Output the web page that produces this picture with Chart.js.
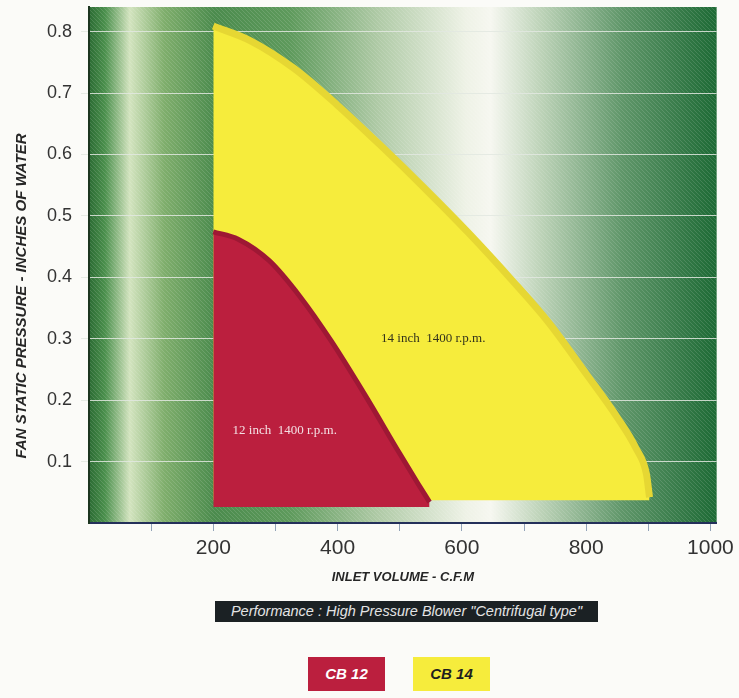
<!DOCTYPE html>
<html>
<head>
<meta charset="utf-8">
<script src="https://cdn.jsdelivr.net/npm/chart.js@4.4.1/dist/chart.umd.min.js"></script>
<style>
  body { margin: 0; background: #fbfbf8; width: 739px; height: 698px; position: relative; overflow: hidden; font-family: "Liberation Sans", Arial, sans-serif; }
  #wrap { position: absolute; left: 0; top: 0; width: 739px; height: 600px; }
  .caption { position: absolute; left: 215px; top: 601px; width: 383px; height: 21px; background: #1b2124; color: #e4e4e4; font-style: italic; font-size: 14.5px; line-height: 21px; text-align: center; white-space: nowrap; }
  .key { position: absolute; top: 657px; width: 77px; height: 34px; font-weight: bold; font-style: italic; font-size: 15px; line-height: 34px; text-align: center; }
</style>
</head>
<body>
<div id="wrap"><canvas id="blowerChart" width="739" height="600"></canvas></div>
<div class="caption">Performance : High Pressure Blower "Centrifugal type"</div>
<div class="key" style="left:308px; background:#bb1f3e; color:#ffffff;">CB 12</div>
<div class="key" style="left:413px; background:#f6ec3c; color:#1e1e1e;">CB 14</div>
<script>
// CB 12 - 12 inch 1400 rpm operating envelope (upper edge)
const cb12Cfm = [200, 240, 290, 340, 390, 445, 500, 530, 548];
const cb12Pressure = [0.474, 0.462, 0.427, 0.368, 0.296, 0.207, 0.113, 0.063, 0.034];
const cb12Base = 0.026;

// CB 14 - 14 inch 1400 rpm operating envelope (upper edge)
const cb14Cfm = [200, 260, 330, 400, 470, 540, 610, 680, 740, 800, 850, 880, 897, 902];
const cb14Pressure = [0.809, 0.785, 0.74, 0.68, 0.614, 0.545, 0.473, 0.396, 0.326, 0.243, 0.172, 0.122, 0.08, 0.042];
const cb14Base = 0.037;

const xTickValues = [100, 200, 300, 400, 500, 600, 700, 800, 900, 1000];
const xLabelValues = [200, 400, 600, 800, 1000];
const yTickValues = [0.1, 0.2, 0.3, 0.4, 0.5, 0.6, 0.7, 0.8];

const regionLabels = [
    { text: '12 inch  1400 r.p.m.', x: 231, y: 0.151, color: '#f3dfe3' },
    { text: '14 inch  1400 r.p.m.', x: 470, y: 0.301, color: '#33331c' }
];

function toPoints(xs, ys) {
    return xs.map((x, i) => ({ x: x, y: ys[i] }));
}

// fine diagonal hatch, like the printed screen on the original
function makeHatch() {
    const c = document.createElement('canvas');
    c.width = 4; c.height = 4;
    const p = c.getContext('2d');
    p.strokeStyle = 'rgba(255,255,255,0.13)';
    p.lineWidth = 1;
    p.beginPath();
    p.moveTo(0, 0); p.lineTo(4, 4);
    p.moveTo(-2, 2); p.lineTo(2, 6);
    p.moveTo(2, -2); p.lineTo(6, 2);
    p.stroke();
    return c;
}

// green / white shaded panel behind the curves
const plotBackground = {
    id: 'plotBackground',
    beforeDraw(chart) {
        const { ctx, chartArea: a } = chart;
        const g = ctx.createLinearGradient(a.left, 0, a.right, 0);
        g.addColorStop(0.0, '#2b6b33');
        g.addColorStop(0.025, '#4a8f4c');
        g.addColorStop(0.065, '#d3e4bf');
        g.addColorStop(0.12, '#7fae6c');
        g.addColorStop(0.2, '#4b8b4d');
        g.addColorStop(0.32, '#5e9a5c');
        g.addColorStop(0.46, '#afcaa6');
        g.addColorStop(0.6, '#eef2e6');
        g.addColorStop(0.64, '#f6f7f0');
        g.addColorStop(0.72, '#bdd3b8');
        g.addColorStop(0.85, '#5f9669');
        g.addColorStop(1.0, '#1d6a35');
        ctx.save();
        ctx.fillStyle = g;
        ctx.fillRect(a.left, a.top, a.width, a.height);
        ctx.fillStyle = ctx.createPattern(makeHatch(), 'repeat');
        ctx.fillRect(a.left, a.top, a.width, a.height);
        ctx.restore();
    }
};

const regionText = {
    id: 'regionText',
    afterDatasetsDraw(chart) {
        const { ctx, scales } = chart;
        ctx.save();
        ctx.font = '13px "Liberation Serif", "Times New Roman", serif';
        ctx.textBaseline = 'middle';
        regionLabels.forEach(l => {
            ctx.fillStyle = l.color;
            ctx.fillText(l.text, scales.x.getPixelForValue(l.x), scales.y.getPixelForValue(l.y));
        });
        ctx.restore();
    }
};

const yTitle = {
    id: 'yTitle',
    afterDraw(chart) {
        const ctx = chart.ctx;
        ctx.save();
        ctx.translate(22, 296);
        ctx.rotate(-Math.PI / 2);
        ctx.font = 'italic bold 15px "Liberation Sans", Arial, sans-serif';
        ctx.fillStyle = '#262626';
        ctx.textAlign = 'center';
        ctx.textBaseline = 'middle';
        ctx.fillText('FAN STATIC PRESSURE - INCHES OF WATER', 0, 0);
        ctx.restore();
    }
};

const ctx = document.getElementById('blowerChart').getContext('2d');
new Chart(ctx, {
    type: 'line',
    data: {
        datasets: [{
            label: 'CB 12',
            data: toPoints(cb12Cfm, cb12Pressure),
            backgroundColor: '#bb1f3e',
            borderColor: '#9e1834',
            borderWidth: 5,
            fill: { value: cb12Base },
            pointRadius: 0,
            cubicInterpolationMode: 'monotone'
        }, {
            label: 'CB 14',
            data: toPoints(cb14Cfm, cb14Pressure),
            backgroundColor: '#f6ec3c',
            borderColor: '#e6d733',
            borderWidth: 7,
            fill: { value: cb14Base },
            pointRadius: 0,
            cubicInterpolationMode: 'monotone'
        }]
    },
    options: {
        responsive: false,
        animation: false,
        layout: { padding: { top: 7, right: 21, left: 0, bottom: 15 } },
        plugins: {
            legend: { display: false },
            tooltip: { enabled: false }
        },
        scales: {
            x: {
                type: 'linear',
                min: 0,
                max: 1010,
                afterFit(scale) { scale.height = 62; },
                afterBuildTicks(scale) { scale.ticks = xTickValues.map(v => ({ value: v })); },
                grid: { drawOnChartArea: false, tickLength: 8, color: '#93a3b8' },
                border: { color: '#24305a', width: 2 },
                ticks: {
                    autoSkip: false,
                    maxRotation: 0,
                    padding: 5,
                    color: '#333333',
                    font: { family: '"Liberation Sans", Arial, sans-serif', size: 21 },
                    callback: v => xLabelValues.includes(v) ? String(v) : ''
                },
                title: {
                    display: true,
                    text: 'INLET VOLUME - C.F.M',
                    color: '#262626',
                    padding: 0,
                    font: { family: '"Liberation Sans", Arial, sans-serif', size: 13, style: 'italic', weight: 'bold' }
                }
            },
            y: {
                min: 0,
                max: 0.84,
                afterFit(scale) {
                    scale.width = 89;
                    scale.paddingTop = 0;
                    scale.paddingBottom = 0;
                },
                afterBuildTicks(scale) { scale.ticks = yTickValues.map(v => ({ value: v })); },
                grid: { color: 'rgba(226,232,224,0.85)', tickLength: 8, lineWidth: 1 },
                border: { color: '#1c3520', width: 2 },
                ticks: {
                    padding: 9,
                    color: '#333333',
                    font: { family: '"Liberation Sans", Arial, sans-serif', size: 18 },
                    callback: v => v.toFixed(1)
                }
            }
        }
    },
    plugins: [plotBackground, regionText, yTitle]
});
</script>
</body>
</html>
